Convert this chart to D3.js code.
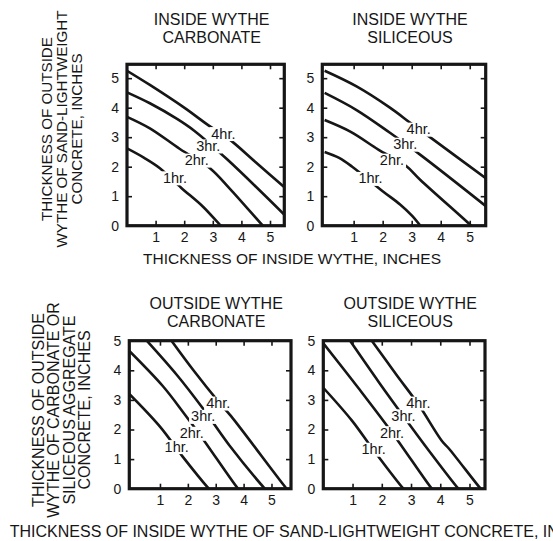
<!DOCTYPE html>
<html>
<head>
<meta charset="utf-8">
<script src="https://cdn.jsdelivr.net/npm/d3@7"></script>
<style>
  body { margin: 0; background: #fff; }
  svg { display: block; font-family: "Liberation Sans", Arial, Helvetica, sans-serif; }
</style>
</head>
<body>
<div id="chart"></div>
<script>
const hours = ["1hr.", "2hr.", "3hr.", "4hr."];
const xTickValues = [1, 2, 3, 4, 5];
const yTickValues = [0, 1, 2, 3, 4, 5];

const topTitles = [["INSIDE WYTHE", "CARBONATE"], ["INSIDE WYTHE", "SILICEOUS"]];
const bottomTitles = [["OUTSIDE WYTHE", "CARBONATE"], ["OUTSIDE WYTHE", "SILICEOUS"]];
const topYTitle = ["THICKNESS OF OUTSIDE", "WYTHE OF SAND-LIGHTWEIGHT", "CONCRETE, INCHES"];
const bottomYTitle = ["THICKNESS OF OUTSIDE", "WYTHE OF CARBONATE OR", "SILICEOUS AGGREGATE", "CONCRETE, INCHES"];
const topXTitle = "THICKNESS OF INSIDE WYTHE, INCHES";
const bottomXTitle = "THICKNESS OF INSIDE WYTHE OF SAND-LIGHTWEIGHT CONCRETE, INCHES";

// [inside thickness, outside thickness], one list per rating
const insideCarbonate = [
  [[0, 2.62], [0.6, 2.3], [1.15, 1.95], [1.9, 1.28], [2.65, 0.65], [3.28, 0], [3.4, -0.1]],
  [[0, 3.69], [0.8, 3.3], [1.85, 2.6], [2.9, 1.95], [3.6, 1.25], [4.75, 0], [4.85, -0.1]],
  [[0, 4.52], [0.8, 4.15], [1.75, 3.62], [2.35, 3.22], [3.5, 2.25], [5.6, 0.28]],
  [[0, 5.25], [0.8, 4.77], [2.0, 4.0], [2.85, 3.4], [3.55, 2.95], [4.5, 2.15], [5.6, 1.22]]
];
const insideCarbonateLabels = [[1.68, 1.63], [2.44, 2.23], [2.84, 2.71], [3.37, 3.13]];

const insideSiliceous = [
  [[0, 2.5], [0.5, 2.3], [0.95, 2.0], [2.0, 1.17], [2.6, 0.72], [3.0, 0.35], [3.3, 0], [3.42, -0.15]],
  [[0, 3.58], [0.9, 3.18], [1.85, 2.58], [2.8, 2.03], [3.3, 1.55], [5.05, 0], [5.15, -0.1]],
  [[0, 4.5], [1.1, 3.92], [2.25, 3.15], [3.3, 2.4], [5.7, 0.55]],
  [[0, 5.25], [1.1, 4.72], [2.25, 4.0], [3.0, 3.45], [3.7, 2.95], [5.7, 1.5]]
];
const insideSiliceousLabels = [[1.58, 1.61], [2.32, 2.23], [2.78, 2.77], [3.24, 3.28]];

const outsideCarbonate = [
  [[-0.2, 3.3], [1.0, 2.1], [1.8, 1.1], [2.75, 0], [2.85, -0.1]],
  [[-0.2, 4.75], [1.1, 3.47], [1.85, 2.56], [2.45, 1.8], [3.8, 0], [3.9, -0.1]],
  [[0.45, 5.08], [1.6, 3.85], [2.55, 2.7], [3.5, 1.45], [4.76, 0], [4.86, -0.1]],
  [[1.35, 5.08], [2.2, 4.0], [3.09, 2.95], [3.55, 2.45], [5.5, 0.05], [5.6, -0.05]]
];
const outsideCarbonateLabels = [[1.6, 1.43], [2.14, 1.88], [2.55, 2.45], [3.09, 2.9]];

const outsideSiliceous = [
  [[0, 3.41], [0.98, 2.3], [1.72, 1.3], [2.74, 0], [2.84, -0.1]],
  [[-0.05, 4.98], [1.2, 3.4], [2.35, 1.9], [3.71, 0], [3.81, -0.1]],
  [[0.88, 5.05], [1.9, 3.6], [2.74, 2.45], [3.6, 1.3], [4.62, 0], [4.72, -0.1]],
  [[1.62, 5.05], [2.5, 3.85], [3.25, 2.85], [4.05, 1.62], [4.3, 1.35], [5.38, 0], [5.48, -0.1]]
];
const outsideSiliceousLabels = [[1.72, 1.34], [2.35, 1.9], [2.74, 2.47], [3.25, 2.9]];

const width = 553, height = 541;
const ink = "#161616";

const svg = d3.select("#chart").append("svg")
  .attr("width", width).attr("height", height)
  .attr("viewBox", [0, 0, width, height]);

const panels = [
  {left: 127, right: 284.3, top: 64.3, bottom: 225.7, xDomain: [0, 5.5], yDomain: [0, 5.47],
   curves: insideCarbonate, labels: insideCarbonateLabels, title: topTitles[0], titleY: 25},
  {left: 322.3, right: 485.7, top: 64.3, bottom: 225.7, xDomain: [-0.08, 5.55], yDomain: [0, 5.47],
   curves: insideSiliceous, labels: insideSiliceousLabels, title: topTitles[1], titleY: 25},
  {left: 129.3, right: 291, top: 340.7, bottom: 488.7, xDomain: [-0.1, 5.7], yDomain: [0, 5],
   curves: outsideCarbonate, labels: outsideCarbonateLabels, title: bottomTitles[0], titleY: 309},
  {left: 323.3, right: 485, top: 340.7, bottom: 488.7, xDomain: [0, 5.53], yDomain: [0, 5],
   curves: outsideSiliceous, labels: outsideSiliceousLabels, title: bottomTitles[1], titleY: 309}
];

const line = d3.line().curve(d3.curveCatmullRom.alpha(0.5));
const fmt = d3.format("d");

panels.forEach((p, i) => {
  const x = d3.scaleLinear().domain(p.xDomain).range([p.left, p.right]);
  const y = d3.scaleLinear().domain(p.yDomain).range([p.bottom, p.top]);
  const g = svg.append("g");

  g.append("clipPath").attr("id", "clip" + i)
    .append("rect")
    .attr("x", p.left).attr("y", p.top)
    .attr("width", p.right - p.left).attr("height", p.bottom - p.top);

  const plot = g.append("g").attr("clip-path", `url(#clip${i})`);
  plot.selectAll("path.curve")
    .data(p.curves)
    .join("path")
    .attr("class", "curve")
    .attr("d", d => line(d.map(([a, b]) => [x(a), y(b)])))
    .attr("fill", "none")
    .attr("stroke", ink)
    .attr("stroke-width", 2.6);

  // rating labels sit on the curves and break them
  const lab = plot.selectAll("g.lab")
    .data(p.labels)
    .join("g")
    .attr("class", "lab")
    .attr("transform", d => `translate(${x(d[0])},${y(d[1])})`);
  lab.append("text")
    .attr("text-anchor", "middle")
    .attr("dy", "0.36em")
    .attr("font-size", 14.5)
    .attr("fill", ink)
    .text((d, j) => hours[j]);
  lab.insert("rect", "text").each(function () {
    const b = this.nextSibling.getBBox();
    d3.select(this)
      .attr("x", b.x - 2).attr("y", b.y + 1.5)
      .attr("width", b.width + 4).attr("height", b.height - 2)
      .attr("fill", "#fff");
  });

  const styleAxis = sel => {
    sel.select(".domain").remove();
    sel.selectAll(".tick line").attr("stroke", ink).attr("stroke-width", 1.6);
    sel.selectAll(".tick text").attr("fill", ink).attr("font-size", 14);
    sel.attr("font-family", null);
  };

  g.append("g").attr("transform", `translate(${p.left},0)`)
    .call(d3.axisLeft(y).tickValues(yTickValues).tickFormat(fmt).tickSize(-5).tickPadding(8))
    .call(styleAxis);
  g.append("g").attr("transform", `translate(0,${p.bottom})`)
    .call(d3.axisBottom(x).tickValues(xTickValues).tickFormat(fmt).tickSize(-5).tickPadding(6))
    .call(styleAxis);
  g.append("g").attr("transform", `translate(${p.right},0)`)
    .call(d3.axisRight(y).tickValues(yTickValues.slice(1)).tickSize(-5).tickFormat(""))
    .call(styleAxis);
  g.append("g").attr("transform", `translate(0,${p.top})`)
    .call(d3.axisTop(x).tickValues(xTickValues).tickSize(-5).tickFormat(""))
    .call(styleAxis);

  g.append("rect")
    .attr("x", p.left).attr("y", p.top)
    .attr("width", p.right - p.left).attr("height", p.bottom - p.top)
    .attr("fill", "none")
    .attr("stroke", ink)
    .attr("stroke-width", 3.2);

  const cx = (p.left + p.right) / 2 + 6;
  g.append("text")
    .attr("text-anchor", "middle")
    .attr("font-size", 16)
    .attr("fill", ink)
    .selectAll("tspan")
    .data(p.title)
    .join("tspan")
    .attr("x", cx)
    .attr("y", (d, j) => p.titleY + j * 17.5)
    .text(d => d);
});

// axis titles
svg.append("text")
  .attr("x", 292).attr("y", 264)
  .attr("text-anchor", "middle")
  .attr("font-size", 15.5)
  .attr("fill", ink)
  .text(topXTitle);

svg.append("text")
  .attr("x", 306.5).attr("y", 537)
  .attr("text-anchor", "middle")
  .attr("font-size", 16)
  .attr("fill", ink)
  .text(bottomXTitle);

function yTitle(lines, cy, firstBase, step, size) {
  lines.forEach((t, j) => {
    svg.append("text")
      .attr("transform", `translate(${firstBase + j * step},${cy}) rotate(-90)`)
      .attr("text-anchor", "middle")
      .attr("font-size", size)
      .attr("fill", ink)
      .text(t);
  });
}
yTitle(topYTitle, 129, 52, 15, 15.2);
yTitle(bottomYTitle, 410, 44, 15.3, 16);
</script>
</body>
</html>
